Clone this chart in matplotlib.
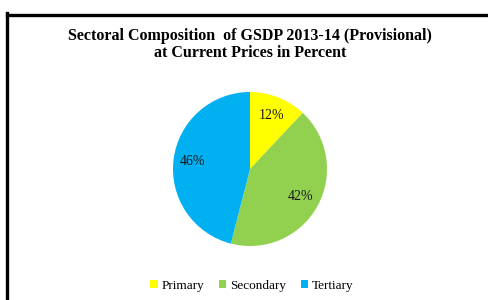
import matplotlib.pyplot as plt
from matplotlib.lines import Line2D
from matplotlib.patches import Patch

sectors = ['Primary', 'Secondary', 'Tertiary']
shares = [12, 42, 46]
colors = ['#FFFF00', '#92D050', '#00B0F0']

plt.rcParams['font.family'] = ['Liberation Serif', 'DejaVu Serif']

fig = plt.figure(figsize=(4.89, 3.0), dpi=100)
W, H = 489, 300

# black frame on left and top
fig.add_artist(Line2D([7.5 / W, 7.5 / W], [0, 1 - 13 / H], color='black', lw=2.4,
                      transform=fig.transFigure, solid_capstyle='projecting'))
fig.add_artist(Line2D([7.5 / W, 1], [1 - 14.5 / H, 1 - 14.5 / H], color='black', lw=2.4,
                      transform=fig.transFigure, solid_capstyle='projecting'))

fig.text(250 / W, 1 - 44.5 / H, 'Sectoral Composition  of GSDP 2013-14 (Provisional)\nat Current Prices in Percent',
         ha='center', va='center', fontsize=11.5, fontweight='bold', linespacing=1.05)

r = 77
cx, cy = 250, 169
ax = fig.add_axes([(cx - r) / W, 1 - (cy + r) / H, 2 * r / W, 2 * r / H])
wedges, texts, autotexts = ax.pie(shares, colors=colors, startangle=90, counterclock=False,
                                  autopct='%1.0f%%', pctdistance=0.75,
                                  textprops={'fontsize': 10, 'color': '#1a1a1a'})
ax.set_xlim(-1, 1)
ax.set_ylim(-1, 1)
ax.set_aspect('equal')

handles = [Patch(facecolor=c, edgecolor='none') for c in colors]
fig.legend(handles, sectors, loc='center', bbox_to_anchor=(252 / W, 1 - 286 / H), ncol=3,
           frameon=False, fontsize=9.5, handlelength=0.55, handleheight=0.55,
           handletextpad=0.3, columnspacing=1.1)

plt.savefig('out.png', dpi=100)
